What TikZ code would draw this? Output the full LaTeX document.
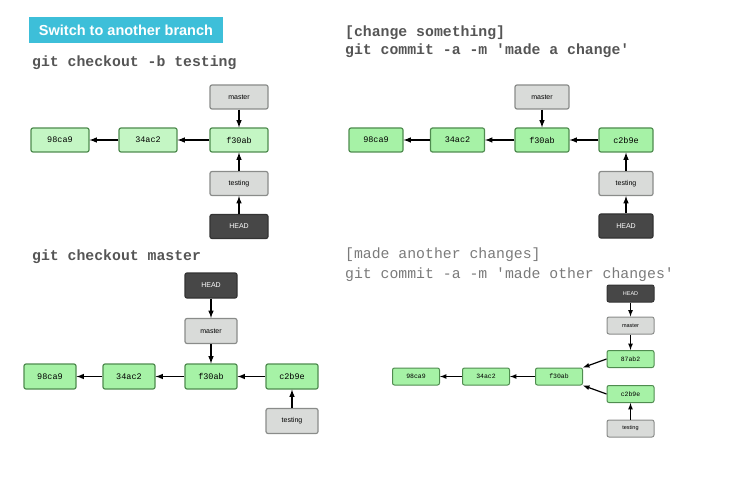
\documentclass[tikz,border=0pt]{standalone}
\usepackage{fontspec}
\setmainfont{Liberation Sans}
\setsansfont{Liberation Sans}
\setmonofont{Liberation Mono}

\definecolor{bannercol}{HTML}{3DBFD9}
\definecolor{cmtfill}{HTML}{A6F2A6}
\definecolor{cmtlight}{HTML}{C4F6C4}
\definecolor{cmtdraw}{HTML}{4F8C4F}
\definecolor{reffill}{HTML}{D9DBD9}
\definecolor{refdraw}{HTML}{8A8C8A}
\definecolor{headfill}{HTML}{474747}
\definecolor{cmdcol}{HTML}{555555}
\definecolor{cmdlight}{HTML}{7A7A7A}

\tikzset{
	commit/.style={rectangle, rounded corners=2pt, draw=cmtdraw, line width=1.2pt, fill=cmtfill,
		minimum width=54pt, minimum height=24pt, inner sep=0pt, font=\ttfamily\fontsize{8.5}{9}\selectfont},
	branch/.style={commit, draw=refdraw, fill=reffill, font=\sffamily\fontsize{7}{8}\selectfont},
	headref/.style={commit, draw=black!80, fill=headfill, text=white, font=\sffamily\fontsize{7}{8}\selectfont},
	small/.style={minimum width=47pt, minimum height=17pt, line width=1pt},
	link/.style={-latex, line width=1.5pt},
	smalllink/.style={-latex, line width=1.2pt},
	cmd/.style={anchor=west, inner sep=0pt, text=cmdcol, font=\ttfamily\bfseries\fontsize{14.8}{16}\selectfont},
}

\begin{document}
\begin{tikzpicture}[auto,x=1pt,y=-1pt]

	\useasboundingbox (0,0) rectangle (743,478);

	% switch to another branch
	\node (banner) [fill=bannercol, text=white, minimum width=194pt, minimum height=26pt, inner sep=0pt,
		font=\sffamily\bfseries\fontsize{14.5}{15}\selectfont] at (126, 30) {Switch to another branch};
	\node (t1) [cmd] at (32, 63) {git checkout -b testing};

	\node (m1) [branch, minimum width=58pt] at (239, 97) {master};
	\node (a1) [commit, fill=cmtlight, minimum width=58pt] at (60, 140) {98ca9};
	\node (b1) [commit, fill=cmtlight, minimum width=58pt] at (148, 140) {34ac2};
	\node (f1) [commit, fill=cmtlight, minimum width=58pt] at (239, 140) {f30ab};
	\node (s1) [branch, minimum width=58pt] at (239, 183.5) {testing};
	\node (h1) [headref, minimum width=58pt] at (239, 226.5) {HEAD};

	\path
	(f1) edge[link] (b1)
	(b1) edge[link] (a1)
	(m1) edge[link] (f1)
	(s1) edge[link] (f1)
	(h1) edge[link] (s1);

	% made a change
	\node (t2a) [cmd] at (345, 33) {[change something]};
	\node (t2b) [cmd] at (345, 51) {git commit -a -m 'made a change'};

	\node (m2) [branch] at (542, 97) {master};
	\node (a2) [commit] at (376, 140) {98ca9};
	\node (b2) [commit] at (457.5, 140) {34ac2};
	\node (f2) [commit] at (542, 140) {f30ab};
	\node (c2) [commit] at (626, 140) {c2b9e};
	\node (s2) [branch] at (626, 183.5) {testing};
	\node (h2) [headref] at (626, 226) {HEAD};

	\path
	(c2) edge[link] (f2)
	(f2) edge[link] (b2)
	(b2) edge[link] (a2)
	(m2) edge[link] (f2)
	(s2) edge[link] (c2)
	(h2) edge[link] (s2);

	% back to master
	\node (t3) [cmd] at (32, 257) {git checkout master};

	\node (h3) [headref, minimum width=52pt, minimum height=25pt] at (211, 285.5) {HEAD};
	\node (m3) [branch, minimum width=52pt, minimum height=25pt] at (211, 331) {master};
	\node (a3) [commit, minimum width=52pt, minimum height=25pt] at (50, 376.5) {98ca9};
	\node (b3) [commit, minimum width=52pt, minimum height=25pt] at (129, 376.5) {34ac2};
	\node (f3) [commit, minimum width=52pt, minimum height=25pt] at (211, 376.5) {f30ab};
	\node (c3) [commit, minimum width=52pt, minimum height=25pt] at (292, 376.5) {c2b9e};
	\node (s3) [branch, minimum width=52pt, minimum height=25pt] at (292, 421) {testing};

	\path
	(h3) edge[link] (m3)
	(m3) edge[link] (f3)
	(c3) edge[link] (f3)
	(f3) edge[link] (b3)
	(b3) edge[link] (a3)
	(s3) edge[link] (c3);

	% diverged history
	\node (t4a) [cmd, text=cmdlight, font=\ttfamily\fontsize{14.8}{16}\selectfont] at (345, 255) {[made another changes]};
	\node (t4b) [cmd, text=cmdlight, font=\ttfamily\fontsize{14.8}{16}\selectfont] at (345, 275) {git commit -a -m 'made other changes'};

	\node (h4) [headref, small, font=\sffamily\fontsize{5.5}{6}\selectfont] at (630.5, 293.5) {HEAD};
	\node (m4) [branch, small, font=\sffamily\fontsize{5.5}{6}\selectfont] at (630.5, 325.5) {master};
	\node (e4) [commit, small, font=\ttfamily\fontsize{6.5}{7}\selectfont] at (630.5, 359) {87ab2};
	\node (a4) [commit, small, font=\ttfamily\fontsize{6.5}{7}\selectfont] at (416, 376.5) {98ca9};
	\node (b4) [commit, small, font=\ttfamily\fontsize{6.5}{7}\selectfont] at (486, 376.5) {34ac2};
	\node (f4) [commit, small, font=\ttfamily\fontsize{6.5}{7}\selectfont] at (559, 376.5) {f30ab};
	\node (c4) [commit, small, font=\ttfamily\fontsize{6.5}{7}\selectfont] at (630.5, 394) {c2b9e};
	\node (s4) [branch, small, font=\sffamily\fontsize{5.5}{6}\selectfont] at (630.5, 428.5) {testing};

	\path
	(h4) edge[smalllink] (m4)
	(m4) edge[smalllink] (e4)
	(e4.west) edge[smalllink] (f4.north east)
	(c4.west) edge[smalllink] (f4.south east)
	(f4) edge[smalllink] (b4)
	(b4) edge[smalllink] (a4)
	(s4) edge[smalllink] (c4);

\end{tikzpicture}
\end{document}
